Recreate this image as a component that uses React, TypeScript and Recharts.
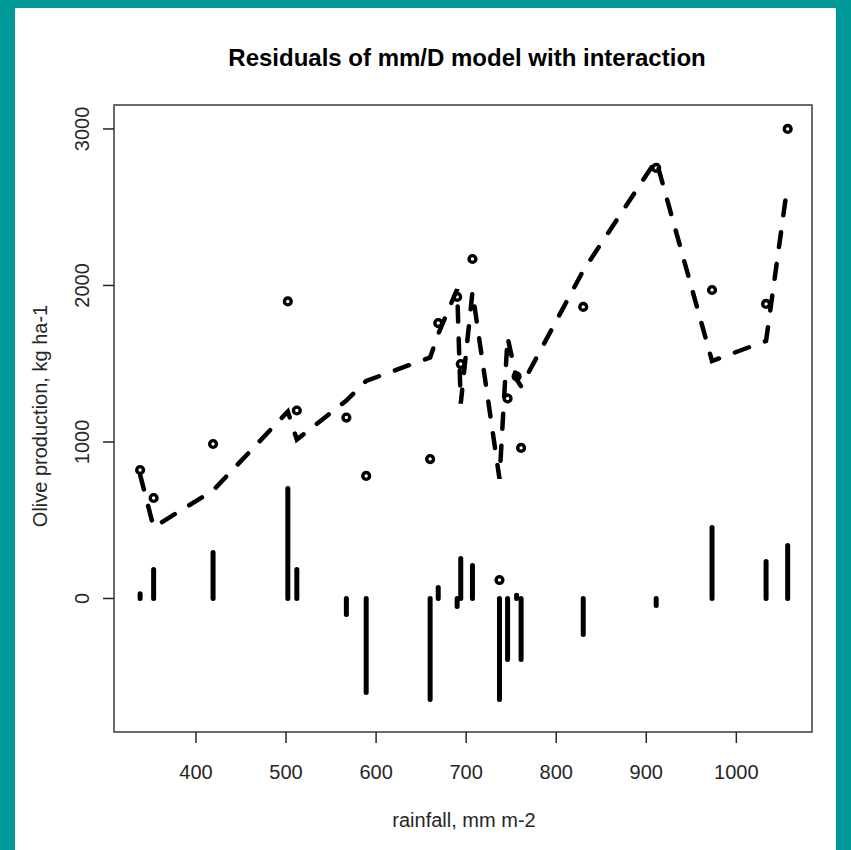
import React from "react";
import {
  ComposedChart,
  XAxis,
  YAxis,
  Line,
  Scatter,
  ReferenceLine,
  ReferenceArea,
} from "recharts";

// rainfall (mm m-2) of each observation, sorted
const rainfall = [338, 353, 419, 502, 512, 567, 589, 660, 669, 690, 694, 707, 737, 746, 756, 761, 830, 911, 973, 1033, 1057];
// observed olive production (kg ha-1)
const production = [821, 642, 987, 1898, 1201, 1156, 783, 891, 1760, 1927, 1498, 2169, 118, 1278, 1419, 962, 1863, 2751, 1971, 1882, 3000];
// fitted values of the mm/D model with interaction
const fitted = [790, 455, 690, 1195, 1015, 1265, 1390, 1540, 1690, 1975, 1245, 1958, 765, 1670, 1400, 1355, 2095, 2800, 1517, 1646, 2650];
// residuals drawn as vertical lines from zero
const residual = [30, 185, 294, 703, 185, -102, -600, -645, 70, -51, 256, 211, -645, -390, 20, -390, -230, -45, 454, 236, 339];

const xTicks = [400, 500, 600, 700, 800, 900, 1000];
const yTicks = [0, 1000, 2000, 3000];

const X_DOMAIN = [309, 1084];
const Y_DOMAIN = [-853, 3153];

const data = rainfall.map((r, i) => ({
  rainfall: r,
  production: production[i],
  fitted: fitted[i],
  residual: residual[i],
}));

const FONT = "'Liberation Sans', Arial, Helvetica, sans-serif";
const TEAL = "#00999a";
const INK = "#262626";

const XTick = (props: any) => {
  const { x, y, payload } = props;
  return (
    <text x={x} y={y + 34} textAnchor="middle" fontFamily={FONT} fontSize={20} fill={INK}>
      {payload.value}
    </text>
  );
};

const YTick = (props: any) => {
  const { x, y, payload } = props;
  const bx = x - 12;
  return (
    <text
      x={bx}
      y={y}
      textAnchor="middle"
      transform={`rotate(-90, ${bx}, ${y})`}
      fontFamily={FONT}
      fontSize={20}
      fill={INK}
    >
      {payload.value}
    </text>
  );
};

const RingDot = (props: any) => {
  const { cx, cy } = props;
  return <circle cx={cx} cy={cy} r={3.4} fill="none" stroke="#000" strokeWidth={3.4} />;
};

export default function App() {
  return (
    <div style={{ position: "absolute", left: 0, top: 0, width: 851, height: 850, background: TEAL }}>
      <div style={{ position: "absolute", left: 15, top: 8, width: 821, height: 842, background: "#fff" }} />
      <div style={{ position: "absolute", left: 0, top: 0 }}>
        <ComposedChart
          width={851}
          height={850}
          data={data}
          margin={{ top: 105, right: 39, left: 74, bottom: 58 }}
        >
          <XAxis
            dataKey="rainfall"
            type="number"
            domain={X_DOMAIN}
            ticks={xTicks}
            allowDataOverflow
            axisLine={false}
            tickLine={{ stroke: INK, strokeWidth: 1.5 }}
            tickSize={11}
            height={60}
            tick={<XTick />}
          />
          <YAxis
            type="number"
            domain={Y_DOMAIN}
            ticks={yTicks}
            allowDataOverflow
            axisLine={false}
            tickLine={{ stroke: INK, strokeWidth: 1.5 }}
            tickSize={11}
            width={40}
            tick={<YTick />}
          />
          <ReferenceArea
            x1={X_DOMAIN[0]}
            x2={X_DOMAIN[1]}
            y1={Y_DOMAIN[0]}
            y2={Y_DOMAIN[1]}
            fill="none"
            fillOpacity={0}
            stroke="#3a3a3a"
            strokeWidth={1.5}
            ifOverflow="visible"
          />
          {data.map((d) => (
            <ReferenceLine
              key={`res-${d.rainfall}`}
              segment={[
                { x: d.rainfall, y: 0 },
                { x: d.rainfall, y: d.residual },
              ]}
              stroke="#000"
              strokeWidth={5}
              strokeLinecap="round"
              ifOverflow="visible"
            />
          ))}
          <Line
            type="linear"
            dataKey="fitted"
            stroke="#000"
            strokeWidth={4.5}
            strokeDasharray="15 17"
            strokeLinecap="round"
            dot={false}
            activeDot={false}
            isAnimationActive={false}
          />
          <Scatter dataKey="production" shape={<RingDot />} isAnimationActive={false} />
        </ComposedChart>
      </div>
      <svg
        width={851}
        height={850}
        style={{ position: "absolute", left: 0, top: 0, pointerEvents: "none" }}
      >
        <text x={467} y={66} textAnchor="middle" fontFamily={FONT} fontSize={24} fontWeight="bold" fill="#000">
          Residuals of mm/D model with interaction
        </text>
        <text x={464} y={827} textAnchor="middle" fontFamily={FONT} fontSize={20} fill={INK}>
          rainfall, mm m-2
        </text>
        <text
          x={47}
          y={416}
          textAnchor="middle"
          transform="rotate(-90, 47, 416)"
          fontFamily={FONT}
          fontSize={20}
          fill={INK}
        >
          Olive production, kg ha-1
        </text>
      </svg>
    </div>
  );
}
